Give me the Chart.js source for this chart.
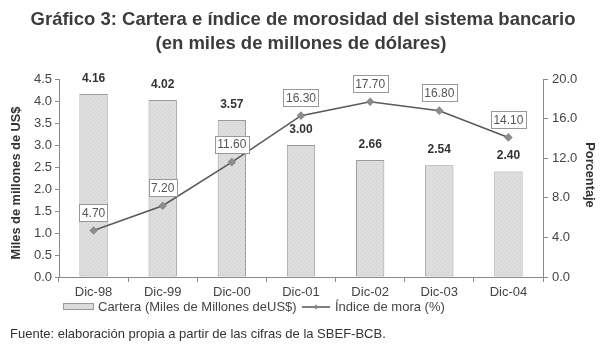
<!DOCTYPE html>
<html>
<head>
<meta charset="utf-8">
<script src="https://cdn.jsdelivr.net/npm/chart.js@4.4.0/dist/chart.umd.min.js"></script>
<style>
  html, body { margin: 0; padding: 0; background: #fff; }
  #wrap { width: 606px; height: 354px; }
</style>
</head>
<body>
<div id="wrap"><canvas id="chart" width="606" height="354"></canvas></div>
<script>
const categories = ['Dic-98', 'Dic-99', 'Dic-00', 'Dic-01', 'Dic-02', 'Dic-03', 'Dic-04'];
const carteraValues = [4.16, 4.02, 3.57, 3.00, 2.66, 2.54, 2.40];
const moraValues = [4.70, 7.20, 11.60, 16.30, 17.70, 16.80, 14.10];
const leftTicks = [0, 0.5, 1, 1.5, 2, 2.5, 3, 3.5, 4, 4.5];
const rightTicks = [0, 4, 8, 12, 16, 20];
const titleLines = ['Gráfico 3: Cartera e índice de morosidad del sistema bancario', '(en miles de millones de dólares)'];
const seriesNames = ['Cartera (Miles de Millones deUS$)', 'Índice de mora (%)'];
const axisTitles = ['Miles de millones de US$', 'Porcentaje'];
const sourceNote = 'Fuente: elaboración propia a partir de las cifras de la SBEF-BCB.';

const FONT = '"Liberation Sans", Arial, sans-serif';
const TEXT = '#444';
const AXIS = '#8a8a8a';

// dotted light grey fill like the scanned bars
function makePattern() {
    const p = document.createElement('canvas');
    p.width = 4; p.height = 4;
    const g = p.getContext('2d');
    g.fillStyle = '#dedede';
    g.fillRect(0, 0, 4, 4);
    g.fillStyle = '#cdcdcd';
    g.fillRect(0, 0, 1, 1);
    g.fillRect(2, 2, 1, 1);
    return g.createPattern(p, 'repeat');
}
const barFill = makePattern();

const labelsPlugin = {
    id: 'valueLabels',
    afterDatasetsDraw(chart) {
        const ctx = chart.ctx;
        ctx.save();
        // bar values, bold above each bar
        const bars = chart.getDatasetMeta(0);
        ctx.font = 'bold 12px ' + FONT;
        ctx.fillStyle = '#333';
        ctx.textAlign = 'center';
        ctx.textBaseline = 'alphabetic';
        bars.data.forEach((el, i) => {
            ctx.fillText(carteraValues[i].toFixed(2), el.x, el.y - 12);
        });
        // line values in white boxes
        const pts = chart.getDatasetMeta(1);
        ctx.font = '12px ' + FONT;
        ctx.textBaseline = 'middle';
        pts.data.forEach((el, i) => {
            const txt = moraValues[i].toFixed(2);
            const w = ctx.measureText(txt).width + 5;
            const h = 17;
            const cx = el.x, cy = el.y - 18;
            ctx.fillStyle = '#fff';
            ctx.fillRect(Math.round(cx - w / 2) + 0.5, Math.round(cy - h / 2) + 0.5, Math.round(w), h);
            ctx.strokeStyle = '#999';
            ctx.lineWidth = 1;
            ctx.strokeRect(Math.round(cx - w / 2) + 0.5, Math.round(cy - h / 2) + 0.5, Math.round(w), h);
            ctx.fillStyle = '#555';
            ctx.fillText(txt, cx, cy + 1);
        });
        ctx.restore();
    }
};

const textPlugin = {
    id: 'pageText',
    afterDraw(chart) {
        const ctx = chart.ctx;
        ctx.save();
        ctx.fillStyle = '#3c3c3c';
        ctx.textAlign = 'center';
        ctx.textBaseline = 'alphabetic';
        ctx.font = 'bold 18.5px ' + FONT;
        ctx.fillText(titleLines[0], 303, 25);
        ctx.fillText(titleLines[1], 301, 49);

        // axis titles
        ctx.font = 'bold 12.8px ' + FONT;
        ctx.fillStyle = '#333';
        ctx.textBaseline = 'middle';
        ctx.save();
        ctx.translate(16, 183);
        ctx.rotate(-Math.PI / 2);
        ctx.fillText(axisTitles[0], 0, 0);
        ctx.restore();
        ctx.save();
        ctx.translate(590, 175);
        ctx.rotate(Math.PI / 2);
        ctx.fillText(axisTitles[1], 0, 0);
        ctx.restore();

        // legend
        const ly = 307;
        ctx.fillStyle = barFill;
        ctx.fillRect(63, ly - 3, 30, 6);
        ctx.strokeStyle = '#999';
        ctx.lineWidth = 1;
        ctx.strokeRect(63.5, ly - 3.5, 30, 6);
        ctx.font = '13px ' + FONT;
        ctx.fillStyle = TEXT;
        ctx.textAlign = 'left';
        ctx.fillText(seriesNames[0], 98, ly);
        ctx.strokeStyle = '#555';
        ctx.lineWidth = 1.5;
        ctx.beginPath();
        ctx.moveTo(302, ly);
        ctx.lineTo(330, ly);
        ctx.stroke();
        ctx.fillStyle = '#888';
        ctx.beginPath();
        ctx.moveTo(316, ly - 2.5); ctx.lineTo(318.5, ly); ctx.lineTo(316, ly + 2.5); ctx.lineTo(313.5, ly);
        ctx.closePath();
        ctx.fill();
        ctx.fillStyle = TEXT;
        ctx.fillText(seriesNames[1], 335, ly);

        // source
        ctx.font = '13px ' + FONT;
        ctx.fillStyle = '#333';
        ctx.fillText(sourceNote, 10, 334);
        ctx.restore();
    }
};

new Chart(document.getElementById('chart'), {
    data: {
        labels: categories,
        datasets: [
            {
                type: 'bar',
                label: seriesNames[0],
                data: carteraValues,
                yAxisID: 'y',
                backgroundColor: barFill,
                borderColor: '#999',
                borderWidth: 1,
                borderSkipped: false,
                categoryPercentage: 1,
                barPercentage: 0.41,
                order: 1
            },
            {
                type: 'line',
                label: seriesNames[1],
                data: moraValues,
                yAxisID: 'y2',
                borderColor: '#5a5a5a',
                borderWidth: 1.6,
                pointStyle: 'rectRot',
                pointRadius: 3.2,
                pointBackgroundColor: '#8c8c8c',
                pointBorderColor: '#8c8c8c',
                tension: 0,
                order: 0
            }
        ]
    },
    options: {
        responsive: false,
        animation: false,
        devicePixelRatio: 1,
        layout: { padding: { left: 0, right: 0, top: 79, bottom: 52 } },
        plugins: {
            legend: { display: false },
            tooltip: { enabled: false },
            title: { display: false }
        },
        scales: {
            x: {
                offset: true,
                afterFit(s) { s.height = 25; },
                grid: { display: true, offset: true, drawOnChartArea: false, tickLength: 5, color: AXIS },
                border: { color: AXIS },
                ticks: { color: TEXT, font: { family: FONT, size: 13 }, padding: 3, maxRotation: 0 }
            },
            y: {
                position: 'left',
                min: 0,
                max: 4.5,
                afterFit(s) { s.width = 59; },
                afterBuildTicks(s) { s.ticks = leftTicks.map(v => ({ value: v })); },
                grid: { display: true, drawOnChartArea: false, tickLength: 4, color: AXIS },
                border: { color: AXIS },
                ticks: { color: TEXT, font: { family: FONT, size: 13 }, padding: 3, callback: v => v.toFixed(1) }
            },
            y2: {
                position: 'right',
                min: 0,
                max: 20,
                afterFit(s) { s.width = 63; },
                afterBuildTicks(s) { s.ticks = rightTicks.map(v => ({ value: v })); },
                grid: { display: true, drawOnChartArea: false, tickLength: 5, color: AXIS },
                border: { color: AXIS },
                ticks: { color: TEXT, font: { family: FONT, size: 13 }, padding: 4, callback: v => v.toFixed(1) }
            }
        }
    },
    plugins: [labelsPlugin, textPlugin]
});
</script>
</body>
</html>
